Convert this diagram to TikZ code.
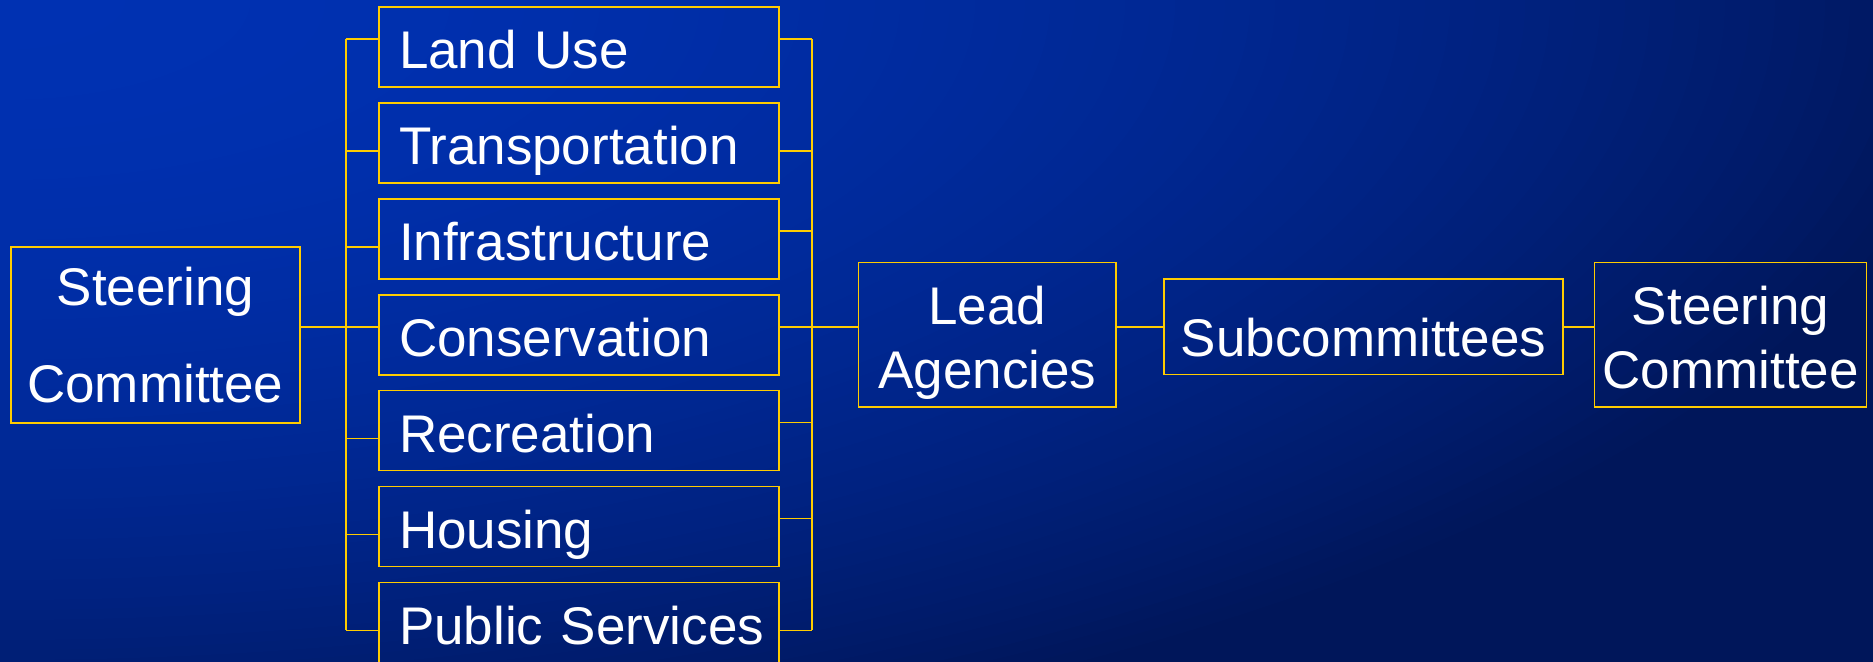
\documentclass[tikz,border=0pt]{standalone}
\usepackage{fontspec}
\setmainfont{Liberation Sans}
\usetikzlibrary{positioning,calc}
\definecolor{gold}{HTML}{FFCC00}
\definecolor{bgin}{HTML}{0031B2}
\definecolor{bgout}{HTML}{00165A}
\newcommand{\wo}{4pt}
\newcommand{\bd}{16pt}

\begin{document}
\begin{tikzpicture}[x=0.5pt,y=-0.5pt,
  box/.style={draw=gold,line width=0.85pt,text=white,inner sep=0pt,font=\fontsize{26.5}{31.8}\selectfont},
  topic/.style={box,minimum height=40pt,text width=180pt,inner xsep=10pt,align=left,text height=22pt,text depth=0.4pt},
  unit/.style={box,minimum height=72.15pt,align=center,text height=53.4pt,text depth=0pt},
  wire/.style={draw=gold,line width=0.85pt}]
% background
\fill[bgout] (0,0) rectangle (1873,661);
\begin{scope}
\clip (0,0) rectangle (1873,661);
\foreach \r in {1.3,1.2875,...,0.01}{
  \pgfmathsetmacro{\mix}{max(0,100-100*min(\r*\r,1))}
  \fill[bgin!\mix!bgout] (0,0) ellipse [x radius=2000*\r, y radius=800*\r];
}
\end{scope}
\useasboundingbox (0,0) rectangle (1873,661);
%
\node[topic]                    (land)  at (579,47) {Land Use};
\node[topic,below=7.1pt of land]  (trans) {Transportation};
\node[topic,below=7.1pt of trans] (infra) {Infrastructure};
\node[topic,below=7.1pt of infra] (cons)  {Conservation};
\node[topic,below=7.1pt of cons]  (recr)  {Recreation};
\node[topic,below=7.1pt of recr]  (hous)  {Housing};
\node[topic,below=7.1pt of hous]  (pub)   {\mbox{Public Services}};
\node[box,minimum width=144.35pt,minimum height=88pt,align=center,left=38.8pt of cons] (scl) {Steering\\[16.7pt]Committee};
\node[unit,minimum width=128.75pt,right=38.9pt of cons] (lead) {Lead\\Agencies};
\node[box,minimum width=199.5pt,minimum height=47.85pt,text height=29.8pt,text depth=0pt,right=23.1pt of lead,yshift=\wo] (sub) {Subcommittees};
\node[unit,minimum width=136pt,right=15pt of sub,yshift=-\wo] (scr) {Steering\\Committee};
%
\foreach \t/\l/\r in {land/1/1,trans/-1/-1,infra/-1/1,cons/1/1,recr/-1/1,hous/-1/1,pub/-1/-1}{
  \draw[wire] ($(\t.west)+(0,\l*\wo)$) -- ++(-\bd,0) coordinate (l-\t);
  \draw[wire] ($(\t.east)+(0,\r*\wo)$) -- ++(\bd,0) coordinate (r-\t);
}
\path[wire]
  (l-land) edge (l-pub)
  (r-land) edge (r-pub)
  ($(scl.east)+(0,\wo)$)  edge (l-cons)
  (r-cons)                edge ($(lead.west)+(0,\wo)$)
  ($(lead.east)+(0,\wo)$) edge (sub.west)
  (sub.east)              edge ($(scr.west)+(0,\wo)$)
; %-path-%
\end{tikzpicture}
\end{document}
